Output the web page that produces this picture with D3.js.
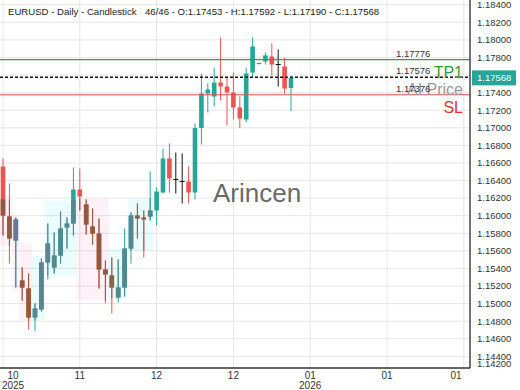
<!DOCTYPE html>
<html>
<head>
<meta charset="utf-8">
<script src="https://cdn.jsdelivr.net/npm/d3@7"></script>
<style>
  body { margin: 0; background: #fff; }
  svg { display: block; font-family: "Liberation Sans", Arial, sans-serif; }
</style>
</head>
<body>
<svg id="chart" width="520" height="390"></svg>
<script>
// daily EURUSD candles
const opens  = [1.16560, 1.15991, 1.15718, 1.15263, 1.15172, 1.14842, 1.14933, 1.15468, 1.15411, 1.15547,
                1.15866, 1.15911, 1.16298, 1.16127, 1.15877, 1.15797, 1.15388, 1.15320, 1.15070, 1.15183,
                1.15627, 1.16002, 1.15979, 1.15991, 1.16059, 1.16264, 1.16651, 1.16412, 1.16389, 1.16389,
                1.16264, 1.16997, 1.17390, 1.17356, 1.17515, 1.17470, 1.17402, 1.17231, 1.17094, 1.17629,
                1.17737, 1.17754, 1.17811, 1.17720, 1.17697, 1.17453];
const highs  = [1.16651, 1.16366, 1.15979, 1.15411, 1.15342, 1.15001, 1.15513, 1.15911, 1.15809, 1.16048,
                1.15979, 1.16548, 1.16537, 1.16184, 1.16082, 1.15968, 1.15490, 1.15524, 1.15502, 1.15854,
                1.16036, 1.16139, 1.16059, 1.16503, 1.16321, 1.16765, 1.16821, 1.16719, 1.16708, 1.16560,
                1.17049, 1.17618, 1.17504, 1.17686, 1.18027, 1.17584, 1.17629, 1.17356, 1.17686, 1.18027,
                1.17743, 1.17857, 1.17959, 1.17891, 1.17800, 1.17592];
const lows   = [1.15775, 1.15456, 1.15183, 1.15035, 1.14705, 1.14683, 1.14910, 1.15274, 1.15342, 1.15456,
                1.15627, 1.15775, 1.16059, 1.15786, 1.15672, 1.15172, 1.15001, 1.14887, 1.15012, 1.15081,
                1.15456, 1.15741, 1.15524, 1.15945, 1.15888, 1.16253, 1.16264, 1.16253, 1.16139, 1.16139,
                1.16184, 1.16810, 1.17174, 1.17242, 1.17311, 1.17026, 1.17094, 1.16997, 1.17060, 1.17572,
                1.17720, 1.17720, 1.17595, 1.17470, 1.17390, 1.17190];
const closes = [1.16002, 1.15741, 1.15957, 1.15183, 1.14842, 1.14944, 1.15468, 1.15684, 1.15547, 1.15854,
                1.15911, 1.16298, 1.16218, 1.15900, 1.15797, 1.15388, 1.15331, 1.15183, 1.15183, 1.15627,
                1.16002, 1.15968, 1.15957, 1.16059, 1.16275, 1.16651, 1.16423, 1.16412, 1.16389, 1.16264,
                1.16997, 1.17390, 1.17436, 1.17515, 1.17470, 1.17402, 1.17231, 1.17106, 1.17618, 1.17925,
                1.17726, 1.17823, 1.17720, 1.17720, 1.17447, 1.17568];

// shaded zones (candle index span, price span)
const zoneStart  = [-0.5, 1.5, 2.5, 4.5, 6.5, 11.5, 16.5, 19.5];
const zoneEnd    = [1.5, 2.5, 4.5, 6.5, 11.5, 16.5, 19.5, 23.5];
const zoneTop    = [1.16184, 1.16002, 1.15684, 1.15547, 1.16173, 1.16196, 1.15627, 1.16196];
const zoneBottom = [1.15661, 1.15149, 1.14808, 1.14808, 1.15320, 1.15035, 1.15058, 1.15604];
const zoneKind   = ["sell", "sell", "sell", "buy", "buy", "sell", "buy", "buy"];

// levels
const levelNames  = ["TP1", "AI Price", "SL"];
const levelValues = [1.17776, 1.17576, 1.17376];

// axes
const yTicks = [1.142, 1.144, 1.146, 1.148, 1.150, 1.152, 1.154, 1.156, 1.158, 1.160, 1.162,
                1.164, 1.166, 1.168, 1.170, 1.172, 1.174, 1.176, 1.178, 1.180, 1.182, 1.184];
const xTickIdx    = [0, 12, 24, 36, 48, 60, 72];
const xTickMonths = ["10", "11", "12", "12", "01", "01", "01"];
const xTickYears  = ["2025", "", "", "", "2026", "", ""];

const lastInfo = "46/46 - O:1.17453 - H:1.17592 - L:1.17190 - C:1.17568";

const plotR = 470, plotB = 368;
const svg = d3.select("#chart");

const x = d3.scaleLinear().domain([0, 72]).range([3, 463.8]);
const y = d3.scaleLinear().domain([1.142673, 1.184539]).range([plotB, 0]);

const candles = closes.map((c, i) => ({ i, o: opens[i], h: highs[i], l: lows[i], c }));
const zones = zoneStart.map((s, k) => ({ s, e: zoneEnd[k], t: zoneTop[k], b: zoneBottom[k], kind: zoneKind[k] }));

const UP = "#26a69a", DOWN = "#ef5350";
const mutedColor = {
  sell: { up: "#66789c", down: "#8f5a3e" },
  buy:  { up: "#578592", down: "#7d6b45" }
};

// grid
const grid = svg.append("g");
grid.selectAll("line.h")
  .data(yTicks.filter(v => y(v) > 0 && y(v) < plotB))
  .join("line")
  .attr("x1", 0).attr("x2", plotR)
  .attr("y1", d => y(d)).attr("y2", d => y(d))
  .attr("stroke", "#e6e6e6").attr("stroke-width", 1);
grid.selectAll("line.v")
  .data(xTickIdx)
  .join("line")
  .attr("x1", d => x(d)).attr("x2", d => x(d))
  .attr("y1", 0).attr("y2", plotB)
  .attr("stroke", "#e6e6e6").attr("stroke-width", 1);

// zones
const zoneFill = { sell: "rgba(240,80,160,0.08)", buy: "rgba(0,215,215,0.08)" };
svg.append("g").selectAll("rect")
  .data(zones)
  .join("rect")
  .attr("x", d => x(d.s)).attr("width", d => x(d.e) - x(d.s))
  .attr("y", d => y(d.t)).attr("height", d => y(d.b) - y(d.t))
  .attr("fill", d => zoneFill[d.kind]);

const defs = svg.append("defs");
["sell", "buy"].forEach(kind => {
  defs.append("clipPath").attr("id", "clip-" + kind)
    .selectAll("rect")
    .data(zones.filter(z => z.kind === kind))
    .join("rect")
    .attr("x", d => x(d.s)).attr("width", d => x(d.e) - x(d.s))
    .attr("y", d => y(d.t)).attr("height", d => y(d.b) - y(d.t));
});

const bodyW = 4.6;
function drawCandles(g, colorFn) {
  const c = g.selectAll("g.candle").data(candles).join("g").attr("class", "candle");
  c.append("line")
    .attr("x1", d => x(d.i)).attr("x2", d => x(d.i))
    .attr("y1", d => y(d.h)).attr("y2", d => y(d.l))
    .attr("stroke", colorFn).attr("stroke-width", 1);
  c.filter(d => d.o !== d.c).append("rect")
    .attr("x", d => x(d.i) - bodyW / 2).attr("width", bodyW)
    .attr("y", d => y(Math.max(d.o, d.c)))
    .attr("height", d => Math.max(1, Math.abs(y(d.o) - y(d.c))))
    .attr("fill", colorFn);
  c.filter(d => d.o === d.c).append("line")
    .attr("x1", d => x(d.i) - 2.5).attr("x2", d => x(d.i) + 2.5)
    .attr("y1", d => y(d.o)).attr("y2", d => y(d.o))
    .attr("stroke", colorFn).attr("stroke-width", 1);
}
const dir = d => d.c > d.o ? "up" : (d.c < d.o ? "down" : "flat");
drawCandles(svg.append("g"), d => dir(d) === "up" ? UP : (dir(d) === "down" ? DOWN : "#111"));
["sell", "buy"].forEach(kind => {
  drawCandles(svg.append("g").attr("clip-path", `url(#clip-${kind})`),
    d => dir(d) === "flat" ? "#111" : mutedColor[kind][dir(d)]);
});

// watermark
svg.append("text")
  .attr("x", 213).attr("y", 202)
  .attr("font-size", 26).attr("fill", "#555").attr("fill-opacity", 0.9)
  .text("Arincen");

// level lines
const levelColor = ["#3c9a3c", "#111", "#e05050"];
const levelText = ["#2f9e2f", "#9a9a9a", "#e0302f"];
const lv = svg.append("g");
levelValues.forEach((v, k) => {
  lv.append("line")
    .attr("x1", 0).attr("x2", plotR)
    .attr("y1", y(v)).attr("y2", y(v))
    .attr("stroke", levelColor[k])
    .attr("stroke-width", k === 1 ? 1.5 : 1.2)
    .attr("stroke-dasharray", k === 1 ? "3,2" : null);
});
levelValues.forEach((v, k) => {
  lv.append("text")
    .attr("x", 396).attr("y", y(v) - 3)
    .attr("font-size", 9.5).attr("fill", "#333")
    .text(d3.format(".5f")(v));
  lv.append("text")
    .attr("x", 463).attr("y", y(v) + 18)
    .attr("text-anchor", "end")
    .attr("font-size", 16).attr("fill", levelText[k])
    .text(levelNames[k]);
});

// axes lines
svg.append("line").attr("x1", plotR).attr("x2", plotR).attr("y1", 0).attr("y2", plotB)
  .attr("stroke", "#444").attr("stroke-width", 1.5);
svg.append("line").attr("x1", 0).attr("x2", plotR).attr("y1", plotB).attr("y2", plotB)
  .attr("stroke", "#333").attr("stroke-width", 1.5);

// y labels
svg.append("g").selectAll("text")
  .data(yTicks)
  .join("text")
  .attr("x", 477)
  .attr("y", d => Math.min(y(d), 364))
  .attr("dy", "0.35em")
  .attr("font-size", 9.5).attr("fill", "#333")
  .text(d => d3.format(".5f")(d));

// last price tag
const lastClose = closes[closes.length - 1];
svg.append("rect")
  .attr("x", 472).attr("y", y(lastClose) - 7.5)
  .attr("width", 44).attr("height", 15)
  .attr("fill", UP);
svg.append("text")
  .attr("x", 477).attr("y", y(lastClose))
  .attr("dy", "0.35em")
  .attr("font-size", 9.5).attr("fill", "#fff")
  .text(d3.format(".5f")(lastClose));

// x labels
const xl = svg.append("g").attr("font-size", 10).attr("fill", "#333").attr("text-anchor", "middle");
xTickIdx.forEach((t, k) => {
  const lx = Math.min(Math.max(x(t), 13), 456);
  xl.append("text").attr("x", lx).attr("y", 379).text(xTickMonths[k]);
  if (xTickYears[k]) xl.append("text").attr("x", lx).attr("y", 389).text(xTickYears[k]);
});

// title
svg.append("text").attr("x", 8).attr("y", 15)
  .attr("font-size", 9.6).attr("fill", "#222")
  .text("EURUSD - Daily - Candlestick");
svg.append("text").attr("x", 145).attr("y", 15)
  .attr("font-size", 9.6).attr("fill", "#222")
  .text(lastInfo);
</script>
</body>
</html>
